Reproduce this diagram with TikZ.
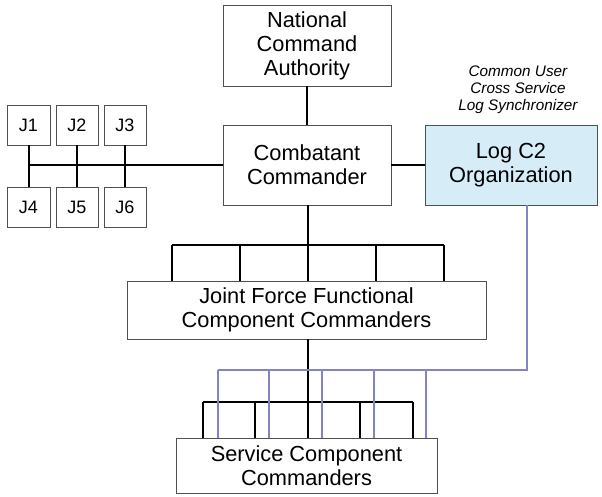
\documentclass[tikz,border=0pt]{standalone}
\usepackage{fontspec}
\setmainfont{Liberation Sans}
\usepackage{tikz}
\usetikzlibrary{positioning}

\definecolor{logblue}{RGB}{214,237,248}
\definecolor{syncline}{RGB}{132,132,192}
\definecolor{boxline}{RGB}{80,80,80}

\tikzset{
  orgbox/.style={draw=boxline,line width=0.9pt,align=center,inner sep=0pt,
    font=\fontsize{21.8}{24}\selectfont},
  jbox/.style={orgbox,minimum width=42pt,minimum height=40pt,
    font=\fontsize{18}{20}\selectfont},
  link/.style={line width=2pt,black},
  sync/.style={line width=1.6pt,syncline}
}

\begin{document}
\begin{tikzpicture}[x=1pt,y=-1pt]
\useasboundingbox (0,0) rectangle (602,496);
% command chain
\node[orgbox,minimum width=168pt,minimum height=81pt] (nca) at (307,45.5)
  {National\\Command\\Authority};
\node[orgbox,minimum width=168pt,minimum height=80pt] (cc) at (307,165)
  {Combatant\\Commander};
\node[orgbox,fill=logblue,minimum width=172pt,minimum height=80pt] (log) at (511,165)
  {Log C2\\Organization};
\node[align=center,inner sep=0pt,font=\fontsize{15.3}{17}\selectfont\itshape]
  (note) at (518,90) {Common User\\Cross Service\\Log Synchronizer};
\node[orgbox,minimum width=359pt,minimum height=58pt] (jf) at (306.5,310)
  {Joint Force Functional\\Component Commanders};
\node[orgbox,minimum width=261pt,minimum height=55pt] (sc) at (306.5,465.5)
  {Service Component\\Commanders};
% staff
\node[jbox,minimum width=43pt] (j1) at (28.5,125) {J1};
\node[jbox] (j2) at (77,125) {J2};
\node[jbox] (j3) at (125,125) {J3};
\node[jbox,minimum width=43pt] (j4) at (28.5,207) {J4};
\node[jbox] (j5) at (77,207) {J5};
\node[jbox] (j6) at (125,207) {J6};

\coordinate (jbus) at (308,245);
\coordinate (sbus) at (308,402);
\coordinate (lbus) at (527,370);

\draw[link] (nca) -- (cc);
\draw[link] (cc.east) -- (log.west);
\draw[link] (j1.south |- cc.west) -- (cc.west);
\draw[link] (j1) -- (j4);
\draw[link] (j2) -- (j5);
\draw[link] (j3) -- (j6);

% functional components
\draw[link] (cc.south -| jbus) -- (jbus);
\draw[link] (172,0 |- jbus) -- (444,0 |- jbus);
\foreach \x in {172,240,308,376,444}
  \draw[link] (\x,0 |- jbus) -- (\x,0 |- jf.north);

% service components
\draw[link] (jf.south -| sbus) -- (sbus);
\draw[link] (203,0 |- sbus) -- (413,0 |- sbus);
\foreach \x in {203,255,308,360,413}
  \draw[link] (\x,0 |- sbus) -- (\x,0 |- sc.north);

% log synchronizer links
\draw[sync] (log.south -| lbus) -- (lbus) -- (218,0 |- lbus);
\foreach \x in {218,269,322,374,426}
  \draw[sync] (\x,0 |- lbus) -- (\x,0 |- sc.north);
\end{tikzpicture}
\end{document}
